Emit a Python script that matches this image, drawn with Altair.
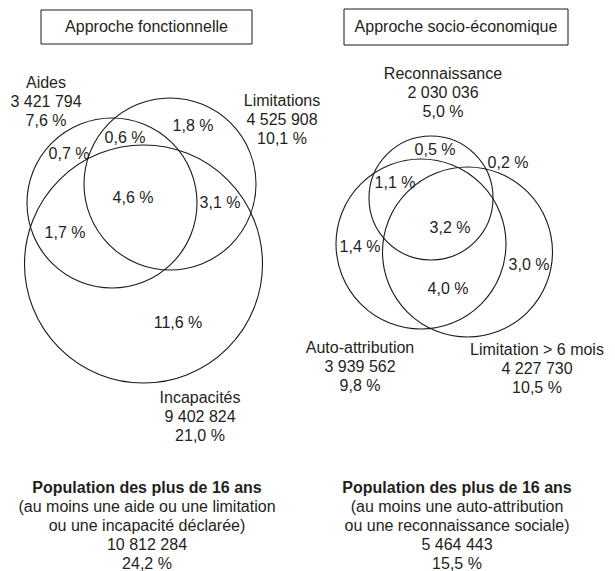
import altair as alt
import pandas as pd

# ---------------- data ----------------
panel_titles = ["Approche fonctionnelle", "Approche socio-économique"]

func_sets = ["Aides", "Limitations", "Incapacités"]
func_counts = ["3 421 794", "4 525 908", "9 402 824"]
func_pcts = ["7,6 %", "10,1 %", "21,0 %"]
func_regions = ["0,7 %", "0,6 %", "1,8 %", "4,6 %", "3,1 %", "1,7 %", "11,6 %"]

socio_sets = ["Reconnaissance", "Auto-attribution", "Limitation > 6 mois"]
socio_counts = ["2 030 036", "3 939 562", "4 227 730"]
socio_pcts = ["5,0 %", "9,8 %", "10,5 %"]
socio_regions = ["0,5 %", "0,2 %", "1,1 %", "3,2 %", "1,4 %", "3,0 %", "4,0 %"]

total_heading = "Population des plus de 16 ans"
total_notes = [
    ["(au moins une aide ou une limitation", "ou une incapacité déclarée)"],
    ["(au moins une auto-attribution", "ou une reconnaissance sociale)"],
]
total_counts = ["10 812 284", "5 464 443"]
total_pcts = ["24,2 %", "15,5 %"]

# ---------------- layout (diagram geometry, page pixels) ----------------
W, H = 599, 563
circle_geom = {
    "Aides": (112, 203, 85), "Limitations": (170, 184, 86), "Incapacités": (143.5, 264, 119),
    "Reconnaissance": (431, 198, 62), "Auto-attribution": (421, 244, 85),
    "Limitation > 6 mois": (467.5, 252, 85),
}
set_anchor = {
    "Aides": (46, 83), "Limitations": (282, 101), "Incapacités": (200, 398),
    "Reconnaissance": (443, 74), "Auto-attribution": (360, 348),
    "Limitation > 6 mois": (537, 350),
}
func_region_pos = [(69, 154), (125, 138), (193, 126), (133, 198), (220, 203), (65, 233), (178, 323)]
socio_region_pos = [(435, 150), (508, 163), (395, 183), (450, 228), (360, 247), (529, 265), (448, 289)]
title_boxes = [(41, 10, 252, 44), (344, 9, 568, 45)]
total_cx = [147, 457]
total_y0 = 488
line_step = 19

# ---------------- tables ----------------
all_sets = func_sets + socio_sets
circles = pd.DataFrame({
    "set": all_sets,
    "cx": [circle_geom[s][0] for s in all_sets],
    "cy": [circle_geom[s][1] for s in all_sets],
    "size": [(2 * circle_geom[s][2]) ** 2 for s in all_sets],
})

rows = []
for names, counts, pcts in [(func_sets, func_counts, func_pcts), (socio_sets, socio_counts, socio_pcts)]:
    for n, c, p in zip(names, counts, pcts):
        ax, ay = set_anchor[n]
        for i, t in enumerate([n, c, p]):
            rows.append({"text": t, "x": ax, "y": ay + i * line_step, "w": "normal"})
for regs, pos in [(func_regions, func_region_pos), (socio_regions, socio_region_pos)]:
    for t, (x, y) in zip(regs, pos):
        rows.append({"text": t, "x": x, "y": y, "w": "normal"})
for k in range(2):
    lines = [total_heading] + total_notes[k] + [total_counts[k], total_pcts[k]]
    for i, t in enumerate(lines):
        rows.append({"text": t, "x": total_cx[k], "y": total_y0 + i * line_step,
                     "w": "bold" if i == 0 else "normal"})
for k in range(2):
    x0, y0, x1, y1 = title_boxes[k]
    rows.append({"text": panel_titles[k], "x": (x0 + x1) / 2, "y": (y0 + y1) / 2, "w": "normal"})
texts = pd.DataFrame(rows)

boxes = pd.DataFrame({
    "x0": [b[0] for b in title_boxes], "y0": [b[1] for b in title_boxes],
    "x1": [b[2] for b in title_boxes], "y1": [b[3] for b in title_boxes],
})

xs = alt.Scale(domain=[8, 8 + W], nice=False, zero=False)
ys = alt.Scale(domain=[8, 8 + H], nice=False, zero=False, reverse=True)

circ = alt.Chart(circles).mark_point(
    shape="circle", filled=False, stroke="#1a1a1a", strokeWidth=1.1, opacity=1
).encode(
    x=alt.X("cx:Q", scale=xs, axis=None),
    y=alt.Y("cy:Q", scale=ys, axis=None),
    size=alt.Size("size:Q", scale=None, legend=None),
)

box = alt.Chart(boxes).mark_rect(fill="white", stroke="#1a1a1a", strokeWidth=1).encode(
    x=alt.X("x0:Q", scale=xs, axis=None), x2="x1:Q",
    y=alt.Y("y0:Q", scale=ys, axis=None), y2="y1:Q",
)


def text_layer(weight):
    return alt.Chart(texts).transform_filter(alt.datum.w == weight).mark_text(
        font="Liberation Sans", fontSize=16, color="#231f20", align="center",
        baseline="middle", fontWeight=weight,
    ).encode(
        x=alt.X("x:Q", scale=xs, axis=None),
        y=alt.Y("y:Q", scale=ys, axis=None),
        text="text:N",
    )


chart = alt.layer(box, circ, text_layer("normal"), text_layer("bold")).properties(
    width=W, height=H, padding=0, autosize=alt.AutoSizeParams(type="none")
).configure_view(strokeWidth=0)

chart.save("out.html", embed_options={"renderer": "svg", "actions": False})
